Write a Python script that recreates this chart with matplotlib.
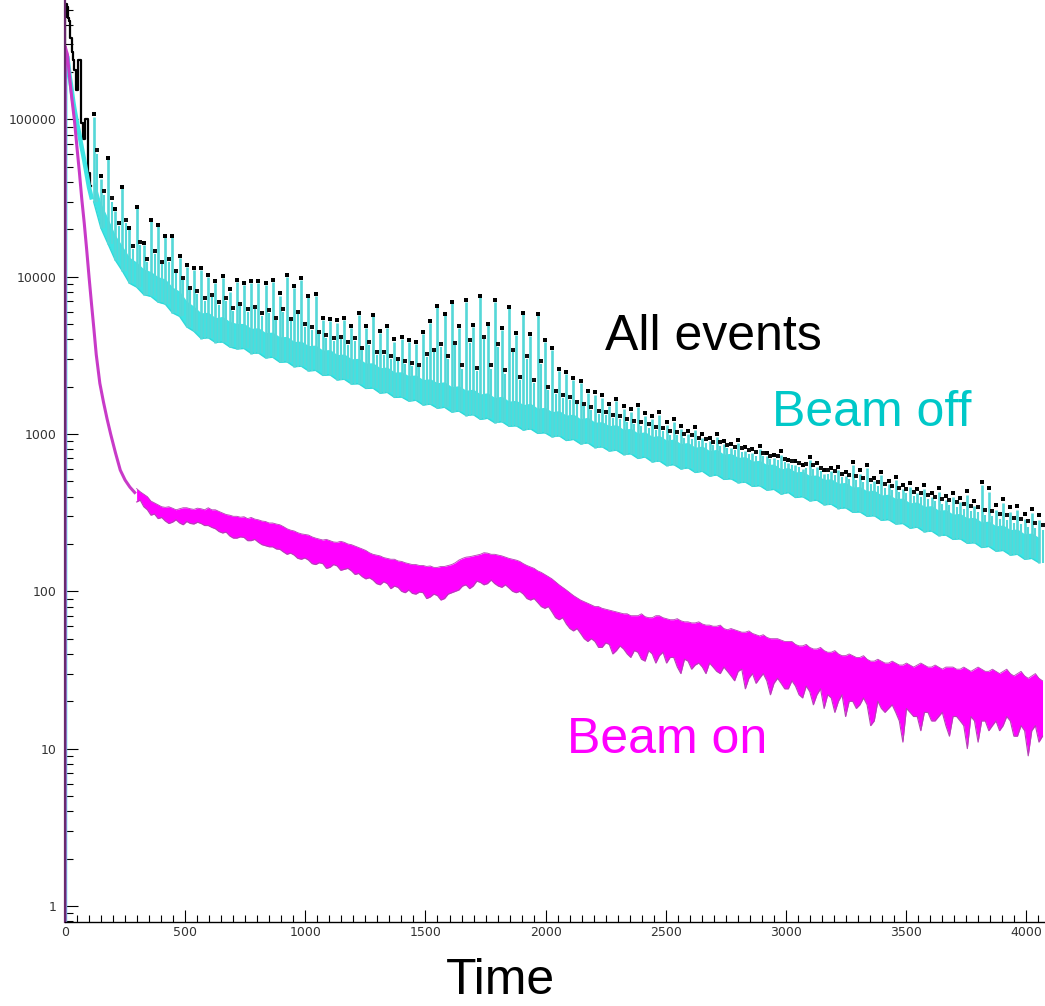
import numpy as np
import matplotlib
matplotlib.use("Agg")
import matplotlib.pyplot as plt
from matplotlib.ticker import FixedLocator, MultipleLocator, LogLocator, NullFormatter

# ---------------- data ----------------
x_ticks = [0, 500, 1000, 1500, 2000, 2500, 3000, 3500, 4000]
y_ticks = [1, 10, 100, 1000, 10000, 100000]
y_tick_labels = ["1", "10", "100", "1000", "10000", "100000"]

# first channels: steep rise and fall
early_ch = [0, 1, 5, 10, 15, 20, 25, 30, 35, 40, 50, 60, 70, 80, 90, 100, 110]
off_early = [0.5, 240000, 255000, 250000, 215000, 185000, 165000, 145000, 128000,
             115000, 95000, 80000, 66000, 55000, 45000, 37000, 32000]
all_early = [0.5, 450000, 540000, 520000, 440000, 420000, 330000, 270000, 240000,
             205000, 155000, 240000, 95000, 75000, 100000, 46000, 38000]

on_early_ch = [0, 1, 5, 10, 15, 20, 25, 30, 35, 40, 50, 60, 70, 80, 90, 100, 110,
               120, 130, 145, 160, 175, 190, 210, 230, 250, 270, 290]
on_early = [0.5, 290000, 275000, 260000, 215000, 180000, 152000, 130000, 112000,
            96000, 66000, 46000, 31000, 22000, 15000, 10000, 6800, 4700, 3200, 2100,
            1600, 1250, 1000, 760, 590, 510, 460, 425]

# periodic structure of the beam-off spectrum (channels between spikes)
spike_period = 29.8
first_spike, last_spike = 4, 136          # spike index range
first_on_bin = 10                         # beam-on band starts at this spike index

# Beam off: main spike tops
off_tip = [104000, 42000, 56000, 26000, 36500, 20000, 27500, 16000, 22500, 21000,
           17800, 17800, 13200, 11500, 11000, 11000, 10000, 9100, 9800, 8000,
           9300, 8900, 9100, 9100, 8900, 9300, 7600, 10000, 8500, 9600,
           7400, 7600, 5300, 5200, 5100, 5300, 4700, 5700, 4700, 5600,
           4400, 4700, 3870, 4000, 3850, 3750, 4350, 5100, 6400, 5700,
           6800, 4700, 6950, 4800, 7400, 4900, 6950, 4600, 6300, 4250,
           5800, 4200, 5700, 3870, 3400, 2500, 2400, 2200, 2100, 1820,
           1780, 1700, 1500, 1620, 1450, 1380, 1480, 1300, 1250, 1320,
           1150, 1200, 1080, 1000, 1060, 950, 900, 960, 860, 820,
           880, 780, 760, 800, 720, 700, 740, 650, 640, 600,
           680, 620, 560, 580, 590, 540, 640, 560, 610, 500,
           550, 480, 510, 450, 460, 420, 450, 400, 430, 380,
           400, 370, 410, 350, 475, 430, 330, 365, 320, 330,
           290, 315, 285]
# Beam off: secondary spikes half way between the main ones
off_mid = [60000, 33000, 30000, 21000, 22000, 15000, 16000, 12500, 14000, 12000,
           12500, 10500, 9500, 8200, 7800, 7000, 7400, 6600, 7000, 6100,
           6500, 6000, 6200, 5600, 5900, 5300, 6000, 5200, 5800, 4800,
           4600, 4300, 4100, 3900, 4000, 3700, 3900, 3400, 3700, 3200,
           3200, 3000, 2900, 2800, 2700, 2650, 3100, 3300, 3600, 3000,
           3700, 2600, 3800, 2500, 4000, 2600, 3600, 2400, 3300, 2200,
           3000, 2100, 2800, 1900, 1800, 1700, 1650, 1550, 1500, 1420,
           1350, 1320, 1260, 1240, 1200, 1160, 1130, 1100, 1060, 1050,
           990, 980, 950, 930, 900, 880, 850, 840, 810, 790,
           770, 750, 730, 720, 690, 680, 660, 640, 620, 610,
           600, 580, 560, 550, 530, 520, 510, 495, 480, 470,
           455, 440, 430, 420, 405, 395, 385, 375, 360, 355,
           345, 335, 325, 320, 305, 300, 290, 285, 272, 268,
           258, 252, 244]
# Beam off: dense band (lower / upper edge)
off_lo = [30000, 20500, 16200, 12800, 10900, 9100, 8600, 7700, 7500, 6900,
          6700, 5900, 5600, 4800, 4500, 4050, 4100, 3820, 3850, 3580,
          3480, 3500, 3250, 3280, 3050, 3080, 2860, 2880, 2680, 2700,
          2520, 2540, 2360, 2380, 2210, 2230, 2080, 2090, 1950, 1960,
          1820, 1840, 1710, 1720, 1620, 1640, 1530, 1550, 1460, 1480,
          1380, 1400, 1310, 1330, 1240, 1260, 1180, 1200, 1120, 1130,
          1060, 1080, 1010, 1020, 960, 975, 910, 925, 865, 880,
          820, 830, 780, 790, 740, 750, 700, 715, 665, 675,
          630, 640, 600, 610, 570, 580, 540, 550, 515, 520,
          490, 495, 465, 470, 440, 445, 415, 425, 395, 400,
          376, 380, 355, 358, 336, 340, 318, 320, 300, 303,
          283, 286, 268, 270, 252, 256, 239, 242, 226, 228,
          214, 216, 202, 204, 190, 193, 180, 182, 170, 172,
          160, 162, 152]
off_hi = [43000, 29500, 23500, 18500, 15700, 13300, 12400, 11200, 10800, 10000,
          9700, 8600, 8100, 7000, 6500, 5900, 5950, 5500, 5600, 5200,
          5050, 5050, 4700, 4750, 4420, 4450, 4150, 4180, 3880, 3900,
          3650, 3680, 3420, 3450, 3200, 3230, 3010, 3030, 2830, 2840,
          2640, 2670, 2480, 2490, 2350, 2380, 2220, 2250, 2120, 2150,
          2000, 2030, 1900, 1930, 1800, 1830, 1710, 1740, 1620, 1640,
          1540, 1570, 1460, 1480, 1390, 1410, 1320, 1340, 1250, 1280,
          1190, 1200, 1130, 1150, 1070, 1090, 1015, 1035, 965, 980,
          915, 930, 870, 885, 825, 840, 785, 800, 745, 755,
          710, 720, 675, 680, 640, 645, 600, 615, 575, 580,
          545, 550, 515, 520, 487, 493, 461, 464, 435, 440,
          410, 415, 389, 392, 365, 371, 347, 351, 328, 331,
          310, 313, 293, 296, 276, 280, 261, 264, 247, 249,
          232, 235, 220]
# All events: values at the main and secondary spike tops
all_tip = [109000, 44000, 57200, 26800, 37100, 20500, 27900, 16400, 22800, 21300,
           18100, 18100, 13500, 11800, 11300, 11300, 10300, 9400, 10100, 8300,
           9560, 9160, 9360, 9350, 9140, 9530, 7830, 10200, 8700, 9800,
           7590, 7790, 5480, 5380, 5280, 5470, 4870, 5860, 4850, 5750,
           4540, 4840, 4000, 4130, 3980, 3870, 4470, 5220, 6520, 5820,
           6920, 4830, 7090, 4940, 7540, 5040, 7090, 4740, 6430, 4380,
           5920, 4320, 5810, 3970, 3500, 2590, 2480, 2270, 2170, 1890,
           1840, 1760, 1560, 1680, 1510, 1435, 1535, 1355, 1300, 1375,
           1200, 1250, 1130, 1050, 1110, 1000, 947, 1006, 905, 864,
           923, 822, 801, 840, 759, 738, 777, 686, 675, 634,
           713, 652, 591, 610, 620, 570, 669, 588, 637, 527,
           576, 506, 535, 475, 485, 445, 474, 424, 454, 404,
           424, 393, 433, 373, 498, 452, 352, 387, 342, 351,
           311, 335, 305]
all_mid = [64000, 35000, 31500, 22000, 23000, 15600, 16600, 13000, 14500, 12400,
           12900, 10900, 9800, 8500, 8100, 7300, 7700, 6900, 7300, 6350,
           6750, 6250, 6450, 5850, 6150, 5500, 6200, 5400, 6000, 5000,
           4780, 4480, 4280, 4070, 4170, 3860, 4060, 3540, 3850, 3330,
           3330, 3120, 3020, 2920, 2810, 2760, 3220, 3420, 3720, 3120,
           3820, 2730, 3940, 2640, 4140, 2740, 3740, 2540, 3430, 2320,
           3120, 2210, 2900, 2000, 1890, 1780, 1720, 1610, 1560, 1480,
           1410, 1380, 1320, 1300, 1255, 1215, 1185, 1155, 1110, 1100,
           1040, 1030, 1000, 980, 945, 925, 895, 885, 850, 830,
           810, 790, 770, 760, 730, 720, 695, 675, 655, 645,
           633, 612, 591, 581, 560, 549, 539, 523, 507, 497,
           481, 466, 455, 445, 430, 420, 410, 400, 385, 380,
           369, 358, 348, 343, 328, 322, 312, 307, 293, 289,
           279, 272, 264]

# Beam on: band (lower / upper edge) at the spike channels, from index 10 onward
on_lo = [370, 345, 305, 290, 280, 275, 272, 278, 268, 270,
         262, 250, 235, 225, 218, 220, 210, 205, 195, 192,
         185, 172, 170, 160, 158, 148, 150, 142, 145, 138,
         135, 130, 120, 118, 110, 112, 108, 100, 102, 96,
         98, 92, 94, 90, 98, 102, 110, 108, 114, 112,
         112, 106, 105, 98, 96, 88, 85, 78, 74, 66,
         62, 56, 54, 48, 48, 44, 46, 42, 43, 38,
         41, 36, 40, 39, 35, 38, 30, 36, 34, 33,
         35, 31, 33, 29, 31, 24, 30, 28, 27, 26,
         26, 24, 25, 21, 23, 22, 18, 21, 20, 16,
         20, 19, 19, 15, 18, 18, 17, 11, 17, 16,
         17, 15, 16, 14, 16, 15, 10, 15, 15, 13,
         15, 14, 15, 12, 13, 13, 11]
on_hi = [450, 415, 375, 355, 342, 338, 335, 340, 332, 335,
         340, 330, 315, 305, 300, 298, 295, 285, 278, 272,
         265, 250, 242, 232, 228, 218, 212, 210, 205, 205,
         198, 190, 182, 172, 168, 162, 160, 155, 150, 148,
         146, 145, 142, 144, 148, 158, 165, 168, 172, 175,
         172, 168, 162, 158, 150, 143, 135, 128, 120, 110,
         102, 94, 88, 84, 80, 78, 76, 74, 72, 70,
         70, 69, 68, 70, 67, 66, 65, 64, 63, 62,
         61, 60, 58, 58, 56, 55, 54, 52, 51, 50,
         49, 48, 46, 45, 44, 43, 42, 41, 40, 39,
         39, 38, 37, 36, 36, 35, 35, 34, 34, 34,
         34, 33, 33, 33, 33, 32, 32, 32, 32, 31,
         31, 31, 30, 30, 29, 29, 28]
# Beam on: band half way between the spike channels
on_lo2 = [380, 330, 310, 295, 270, 285, 265, 270, 275, 262,
          255, 240, 238, 218, 222, 210, 214, 198, 192, 186,
          178, 175, 162, 163, 150, 152, 140, 148, 136, 140,
          128, 124, 122, 112, 115, 104, 106, 98, 97, 99,
          90, 96, 88, 96, 100, 108, 104, 116, 110, 118,
          108, 110, 100, 100, 90, 90, 80, 80, 68, 68,
          58, 58, 50, 50, 44, 47, 40, 45, 40, 42,
          37, 42, 35, 41, 38, 33, 37, 32, 35, 30,
          33, 30, 31, 27, 32, 28, 26, 30, 22, 28,
          24, 27, 22, 25, 19, 24, 22, 17, 22, 20,
          18, 21, 14, 20, 17, 19, 15, 18, 16, 13,
          17, 15, 17, 12, 16, 14, 16, 11, 15, 14,
          13, 16, 12, 14, 9, 14, 12]
on_hi2 = [430, 400, 365, 345, 345, 330, 340, 335, 338, 330,
          330, 322, 308, 300, 296, 290, 288, 280, 272, 268,
          258, 245, 236, 230, 222, 215, 214, 206, 208, 200,
          194, 186, 176, 170, 164, 160, 156, 152, 148, 146,
          144, 142, 144, 146, 152, 162, 166, 170, 176, 172,
          170, 165, 160, 155, 146, 140, 132, 124, 115, 106,
          98, 91, 86, 82, 80, 77, 75, 73, 72, 70,
          72, 68, 70, 68, 66, 67, 64, 63, 64, 61,
          60, 61, 57, 57, 55, 56, 53, 53, 50, 50,
          48, 48, 45, 46, 43, 44, 41, 42, 39, 40,
          38, 39, 36, 37, 35, 36, 34, 35, 33, 35,
          33, 34, 32, 33, 32, 33, 31, 33, 31, 32,
          30, 32, 29, 31, 28, 30, 27]

# ---------------- drawing ----------------
CYAN = "#3EE3E3"
CYAN_SPIKE = "#55D8D8"
CYAN_TEXT = "#00C8C8"
MAGENTA = "#FF00FF"
MAGENTA_EDGE = "#B443B4"

grid_ch = np.arange(first_spike, last_spike + 1) * spike_period
mid_ch = grid_ch + spike_period / 2
on_ch = grid_ch[first_on_bin - first_spike:]
on_mid_ch = mid_ch[first_on_bin - first_spike:]

# interleave the beam-on values at spike channels and half way between
on_x = np.column_stack([on_ch, on_mid_ch]).ravel()
on_lo_all = np.column_stack([on_lo, on_lo2]).ravel()
on_hi_all = np.column_stack([on_hi, on_hi2]).ravel()

fig = plt.figure(figsize=(10.45, 10.06), dpi=100)
ax = fig.add_axes([65 / 1045, 84 / 1006, 980 / 1045, 922 / 1006])

# All events (below everything)
ax.plot(early_ch, all_early, drawstyle="steps-mid", color="black", lw=1.6, zorder=2)
# Beam off
ax.plot(early_ch, off_early, color=CYAN, lw=3.2, zorder=3)
ax.fill_between(grid_ch, off_lo, off_hi, color=CYAN, lw=0, zorder=3)
ax.plot(grid_ch, off_lo, color="#30D8D8", lw=1.0, zorder=3)
ax.vlines(grid_ch, off_lo, off_tip, color=CYAN_SPIKE, lw=1.9, zorder=3)
ax.vlines(mid_ch, off_lo, off_mid, color=CYAN_SPIKE, lw=1.5, zorder=3)
# All events peeking above beam off
ax.plot(grid_ch, all_tip, "s", ms=2.6, color="black", mew=0, zorder=4)
ax.plot(mid_ch, all_mid, "s", ms=2.2, color="#111111", mew=0, zorder=4)
# Beam on
ax.plot(on_early_ch, on_early, color="#C83AC8", lw=2.2, zorder=5)
ax.fill_between(on_x, on_lo_all, on_hi_all, color=MAGENTA, lw=0, zorder=5)
ax.plot(on_x, on_lo_all, color=MAGENTA_EDGE, lw=0.8, zorder=5)
ax.plot(on_x, on_hi_all, color=MAGENTA_EDGE, lw=0.6, zorder=5)

ax.set_yscale("log")
ax.set_xlim(0, 4078)
ax.set_ylim(0.79, 5.75e5)

for s in ("top", "right"):
    ax.spines[s].set_visible(False)
ax.spines["bottom"].set_linewidth(1.0)
ax.spines["left"].set_linewidth(1.6)
ax.spines["left"].set_color("#6A2A6E")
for s in ("left", "bottom"):
    ax.spines[s].set_zorder(6)

ax.xaxis.set_major_locator(FixedLocator(x_ticks))
ax.xaxis.set_minor_locator(MultipleLocator(50))
ax.yaxis.set_major_locator(FixedLocator(y_ticks))
ax.set_yticklabels(y_tick_labels)
ax.yaxis.set_minor_locator(LogLocator(base=10, subs=np.arange(2, 10), numticks=20))
ax.yaxis.set_minor_formatter(NullFormatter())

ax.tick_params(axis="y", which="major", direction="in", length=9.4, width=0.8,
               pad=6, labelsize=9, labelcolor="#333333", color="black")
ax.tick_params(axis="y", which="minor", direction="in", length=5.8, width=0.8, color="black")
ax.tick_params(axis="x", which="major", direction="in", length=8.6, width=0.8,
               pad=3, labelsize=9, labelcolor="#333333")
ax.tick_params(axis="x", which="minor", direction="in", length=5.0, width=0.8)

big = dict(family=["Liberation Sans", "DejaVu Sans"], fontsize=36)
fig.text(713 / 1045, 1 - 350 / 1006, "All events", color="black", ha="center", va="baseline", **big)
fig.text(872 / 1045, 1 - 426 / 1006, "Beam off", color=CYAN_TEXT, ha="center", va="baseline", **big)
fig.text(667 / 1045, 1 - 753 / 1006, "Beam on", color=MAGENTA, ha="center", va="baseline", **big)
fig.text(500 / 1045, 1 - 994 / 1006, "Time", color="black", ha="center", va="baseline", **big)

fig.savefig("out.png", dpi=100)
